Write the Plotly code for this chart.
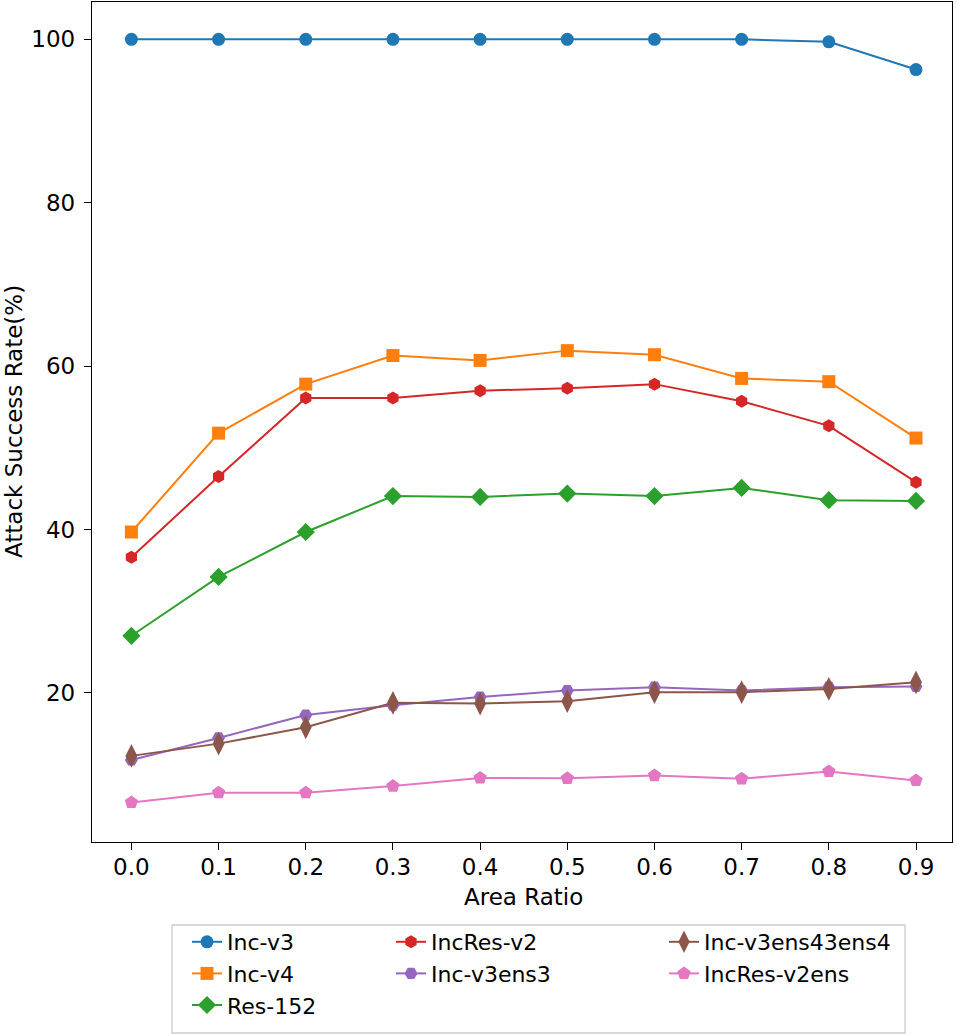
import plotly.graph_objects as go

area_ratio = [0.0, 0.1, 0.2, 0.3, 0.4, 0.5, 0.6, 0.7, 0.8, 0.9]

inc_v3 = [100.0, 100.0, 100.0, 100.0, 100.0, 100.0, 100.0, 100.0, 99.7, 96.3]
inc_v4 = [39.7, 51.8, 57.8, 61.3, 60.7, 61.9, 61.4, 58.5, 58.1, 51.2]
res_152 = [27.0, 34.2, 39.7, 44.1, 44.0, 44.4, 44.1, 45.1, 43.6, 43.5]
incres_v2 = [36.6, 46.5, 56.1, 56.1, 57.0, 57.3, 57.8, 55.7, 52.7, 45.8]
inc_v3ens3 = [11.8, 14.5, 17.3, 18.5, 19.5, 20.3, 20.7, 20.3, 20.7, 20.8]
inc_v3ens43ens4 = [12.3, 13.8, 15.8, 18.8, 18.7, 19.0, 20.1, 20.1, 20.5, 21.3]
incres_v2ens = [6.6, 7.8, 7.8, 8.6, 9.6, 9.55, 9.9, 9.5, 10.4, 9.3]

y_ticks = [20, 40, 60, 80, 100]
x_title = "Area Ratio"
y_title = "Attack Success Rate(%)"

names = ["Inc-v3", "Inc-v4", "Res-152", "IncRes-v2", "Inc-v3ens3",
         "Inc-v3ens43ens4", "IncRes-v2ens"]
series = [inc_v3, inc_v4, res_152, incres_v2, inc_v3ens3, inc_v3ens43ens4, incres_v2ens]
colors = ["#1f77b4", "#ff7f0e", "#2ca02c", "#d62728", "#9467bd", "#8c564b", "#e377c2"]
symbols = ["circle", "square", "diamond", "hexagon", "hexagon2", "diamond-tall", "pentagon"]
sizes = [13, 13, 14, 13, 13, 17, 14]
legends = ["legend", "legend", "legend", "legend2", "legend2", "legend3", "legend3"]

FONT = "DejaVu Sans"
fig = go.Figure()
for i, (n, ys) in enumerate(zip(names, series)):
    fig.add_trace(go.Scatter(
        x=area_ratio, y=ys, name=n, mode="lines+markers",
        line=dict(color=colors[i], width=2),
        marker=dict(symbol=symbols[i], size=sizes[i], color=colors[i], line=dict(width=0)),
        legend=legends[i], legendgroup=n,
    ))

W, H = 957, 1036
ml, mr, mt, mb = 92, 5, 2, 194
pw, ph = W - ml - mr, H - mt - mb

def px_x(p):
    return (p - ml) / pw

def px_y(p):
    return (H - mb - p) / ph

leg_common = dict(font=dict(family=FONT, size=22, color="black"), bgcolor="rgba(0,0,0,0)",
                  borderwidth=0, orientation="v", xanchor="left", yanchor="top",
                  tracegroupgap=0, itemwidth=30)

axis_common = dict(showgrid=False, zeroline=False, showline=True, linecolor="black",
                   linewidth=1.3, mirror=True, ticks="outside", ticklen=7, tickwidth=1.3,
                   tickcolor="black", tickfont=dict(family=FONT, size=23), automargin=False)

fig.update_layout(
    width=W, height=H,
    margin=dict(l=ml, r=mr, t=mt, b=mb, autoexpand=False),
    paper_bgcolor="white", plot_bgcolor="white",
    font=dict(family=FONT, size=23, color="black"),
    showlegend=True,
    legend=dict(x=px_x(187), y=px_y(921), **leg_common),
    legend2=dict(x=px_x(391), y=px_y(921), **leg_common),
    legend3=dict(x=px_x(664), y=px_y(921), **leg_common),
    xaxis=dict(range=[-0.0452, 0.9413], tickvals=area_ratio, tickformat=".1f",
               ticklabelstandoff=-3, **axis_common),
    yaxis=dict(range=[1.76, 104.57], tickvals=y_ticks, ticklabelstandoff=4, **axis_common),
    annotations=[
        dict(text=x_title, xref="paper", yref="paper", x=px_x(523), y=px_y(897),
             xanchor="center", yanchor="middle", showarrow=False,
             font=dict(family=FONT, size=23)),
        dict(text=y_title, xref="paper", yref="paper", x=px_x(14), y=px_y(422),
             xanchor="center", yanchor="middle", showarrow=False, textangle=-90,
             font=dict(family=FONT, size=23)),
    ],
    shapes=[dict(type="rect", xref="paper", yref="paper",
                 x0=px_x(172), x1=px_x(905), y0=px_y(1033), y1=px_y(925),
                 line=dict(color="#cccccc", width=1.3), fillcolor="rgba(0,0,0,0)", layer="below")],
)

fig.write_html("out.html", config={"displayModeBar": False},
               post_script="document.body.style.margin='0px';")
